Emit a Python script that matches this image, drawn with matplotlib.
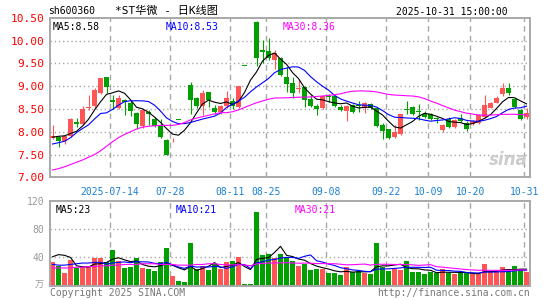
import numpy as np
import pandas as pd
import matplotlib
matplotlib.use("Agg")
import matplotlib.pyplot as plt

# daily OHLC for *ST华微, 80 sessions ending 2025-10-31
opens = [7.87, 7.89, 7.79, 7.90, 8.21, 8.17, 8.52, 8.56, 8.86, 9.20,
         8.70, 8.52, 8.70, 8.62, 8.41, 8.12, 8.44, 8.28, 8.12, 7.82,
         7.86, 8.26, 8.67, 9.02, 8.73, 8.56, 8.87, 8.52, 8.43, 8.56,
         8.68, 8.55, 9.45, 9.92, 10.40, 9.79, 9.77, 9.57, 9.61, 9.20,
         9.06, 8.94, 8.98, 8.72, 8.57, 8.52, 8.78, 8.78, 8.55, 8.46,
         8.58, 8.58, 8.51, 8.61, 8.52, 8.14, 8.06, 7.88, 7.94, 8.50,
         8.54, 8.46, 8.38, 8.38, 8.31, 8.04, 8.27, 8.11, 8.31, 8.19,
         8.16, 8.20, 8.32, 8.53, 8.64, 8.82, 8.96, 8.72, 8.48, 8.33]
closes = [7.91, 7.80, 7.90, 8.27, 8.17, 8.49, 8.54, 8.91, 9.17, 8.99,
          8.66, 8.75, 8.65, 8.46, 8.17, 8.48, 8.38, 8.12, 7.88, 7.49,
          7.87, 8.26, 8.67, 8.70, 8.56, 8.85, 8.69, 8.44, 8.56, 8.73,
          8.57, 9.00, 9.45, 9.92, 9.62, 9.76, 9.62, 9.72, 9.25, 9.05,
          8.85, 8.96, 8.70, 8.57, 8.49, 8.78, 8.76, 8.56, 8.48, 8.57,
          8.44, 8.56, 8.62, 8.52, 8.12, 8.02, 7.87, 8.00, 8.39, 8.48,
          8.38, 8.44, 8.33, 8.28, 8.27, 8.14, 8.11, 8.25, 8.23, 8.06,
          8.24, 8.36, 8.58, 8.63, 8.74, 8.97, 8.84, 8.55, 8.28, 8.42]
highs = [8.14, 7.90, 7.92, 8.31, 8.30, 8.56, 8.80, 8.97, 9.18, 9.20,
         8.80, 8.80, 8.72, 8.68, 8.43, 8.50, 8.48, 8.33, 8.27, 7.83,
         7.87, 8.26, 8.67, 9.10, 8.76, 8.91, 8.88, 8.58, 8.58, 8.89,
         8.75, 9.00, 9.45, 9.92, 10.42, 10.01, 10.05, 9.80, 9.63, 9.42,
         9.20, 9.15, 9.00, 8.80, 8.60, 8.80, 8.82, 8.80, 8.58, 8.58,
         8.60, 8.68, 8.66, 8.63, 8.54, 8.20, 8.07, 8.14, 8.40, 8.67,
         8.56, 8.60, 8.46, 8.42, 8.33, 8.18, 8.33, 8.28, 8.40, 8.24,
         8.26, 8.38, 8.80, 8.66, 8.78, 9.06, 9.08, 8.74, 8.50, 8.52]
lows = [7.85, 7.66, 7.74, 7.88, 8.10, 8.15, 8.47, 8.53, 8.82, 8.86,
        8.50, 8.50, 8.36, 8.34, 8.05, 8.08, 8.15, 8.10, 7.86, 7.49,
        7.78, 8.26, 8.67, 8.38, 8.52, 8.36, 8.54, 8.38, 8.40, 8.52,
        8.50, 8.52, 9.45, 9.92, 9.45, 9.50, 9.58, 9.38, 9.22, 8.87,
        8.75, 8.86, 8.55, 8.55, 8.37, 8.50, 8.65, 8.54, 8.45, 8.24,
        8.42, 8.44, 8.42, 8.50, 8.10, 7.84, 7.85, 7.86, 7.92, 8.40,
        8.36, 8.26, 8.31, 8.25, 8.20, 8.00, 8.08, 8.08, 8.21, 8.02,
        8.14, 8.18, 8.30, 8.51, 8.62, 8.78, 8.80, 8.52, 8.25, 8.28]
# volume in 万手
volumes = [33.0, 28.0, 17.5, 37.0, 25.0, 26.0, 26.0, 39.0, 39.0, 34.0,
           50.0, 35.5, 24.5, 26.0, 39.0, 24.5, 23.5, 20.0, 34.0, 53.0,
           13.5, 6.0, 4.5, 60.0, 23.5, 27.5, 21.5, 31.0, 23.5, 33.0,
           35.5, 41.0, 2.0, 2.0, 105.0, 44.0, 45.5, 39.0, 45.5, 41.0,
           35.5, 27.5, 31.0, 21.5, 23.0, 24.0, 18.0, 18.0, 14.5, 26.0,
           19.0, 20.0, 18.0, 16.0, 60.0, 26.0, 20.0, 24.0, 21.5, 35.5,
           19.0, 19.0, 16.0, 19.0, 18.0, 23.0, 18.0, 16.0, 18.0, 18.0,
           16.0, 16.0, 30.0, 19.0, 19.0, 26.0, 20.0, 28.5, 23.0, 19.0]

# moving-average values before the full window exists
ma5_head = [7.88, 7.90, 7.91, 7.96]
ma10_head = [7.73, 7.76, 7.79, 7.87, 7.98, 8.07, 8.15, 8.28, 8.40]
ma30_head = [7.16, 7.19, 7.23, 7.28, 7.33, 7.38, 7.44, 7.50, 7.58, 7.68,
             7.78, 7.87, 7.94, 8.00, 8.06, 8.10, 8.12, 8.13, 8.14, 8.14,
             8.14, 8.16, 8.20, 8.26, 8.30, 8.33, 8.36, 8.39, 8.42]
vma5_head = [41, 44, 43, 40]
vma10_head = [30, 29, 29, 30, 31, 32, 32, 33, 33]
vma30_head = [25, 25, 25, 25, 26, 26, 27, 27, 28, 28,
              29, 29, 30, 30, 30, 31, 31, 31, 30, 30,
              30, 29, 29, 29, 30, 30, 31, 31, 30]

tick_idx = [10, 20, 30, 36, 46, 56, 63, 70, 79]
tick_labels = ['2025-07-14', '07-28', '08-11', '08-25', '09-08',
               '09-22', '10-09', '10-20', '10-31']
price_ticks = [7.00, 7.50, 8.00, 8.50, 9.00, 9.50, 10.00, 10.50]
vol_ticks = [40, 80, 120]

RED = '#ff5555'
GREEN = '#00a000'
GRID = '#a8a8a8'
MONO = 'DejaVu Sans Mono'


def with_head(series, n, head):
    ma = series.rolling(n).mean()
    ma.iloc[:len(head)] = head
    return ma


df = pd.DataFrame({'open': opens, 'close': closes, 'high': highs,
                   'low': lows, 'vol': volumes})
x = np.arange(len(df))
up = df['close'] > df['open']
colors = np.where(up, RED, GREEN)

ma5 = with_head(df['close'], 5, ma5_head)
ma10 = with_head(df['close'], 10, ma10_head)
ma30 = with_head(df['close'], 30, ma30_head)
vma5 = with_head(df['vol'], 5, vma5_head)
vma10 = with_head(df['vol'], 10, vma10_head)
vma30 = with_head(df['vol'], 30, vma30_head)

W, H = 545, 300
fig = plt.figure(figsize=(W / 100, H / 100), dpi=100)
ax = fig.add_axes([50 / W, 1 - 177.3 / H, 480 / W, 159.5 / H])
axv = fig.add_axes([50 / W, 1 - 285.5 / H, 480 / W, 84.2 / H])

grid_x = [i - 0.4 for i in tick_idx]

for a in (ax, axv):
    a.set_xlim(-0.42, 79.58)
    for s in a.spines.values():
        s.set_color(GRID)
        s.set_linewidth(1.4)
    a.tick_params(length=0, pad=4)
    a.set_xticks([])
    for gx in grid_x:
        a.axvline(gx, color=GRID, lw=1, ls=(0, (4, 3)), zorder=0)

# ---- price panel ----
ax.set_ylim(7.0, 10.5)
ax.set_yticks(price_ticks)
ax.set_yticklabels([f'{p:.2f}' for p in price_ticks], color='red',
                   family=MONO, fontsize=8)
for p in price_ticks[1:-1]:
    ax.axhline(p, color=GRID, lw=1, ls=(0, (1, 2)), zorder=0)

ax.vlines(x, df['low'], df['high'], colors=colors, lw=0.8, zorder=2)
body = (df['close'] - df['open']).abs()
ax.bar(x, body.where(body > 0, 0.012), bottom=np.minimum(df['open'], df['close']),
       width=0.8, color=colors, zorder=3)

ax.plot(x, ma5, color='black', lw=0.8, zorder=4)
ax.plot(x, ma10, color='#0000ff', lw=0.8, zorder=4)
ax.plot(x, ma30, color='#ff00ff', lw=0.8, zorder=4)

ax.text(0.006, 0.975, 'MA5:8.58', transform=ax.transAxes, color='black',
        family=MONO, fontsize=7, va='top')
ax.text(0.24, 0.975, 'MA10:8.53', transform=ax.transAxes, color='#0000ff',
        family=MONO, fontsize=7, va='top')
ax.text(0.485, 0.975, 'MA30:8.36', transform=ax.transAxes, color='#ff00ff',
        family=MONO, fontsize=7, va='top')
ax.text(0.995, 0.05, 'sina', transform=ax.transAxes, color='#cccccc',
        fontsize=12, fontweight='bold', style='italic', ha='right', va='bottom')

# date labels between the panels
for gx, lab in zip(grid_x, tick_labels):
    ax.text(gx, -0.06, lab, transform=ax.get_xaxis_transform(), color='#1a7fd4',
            family=MONO, fontsize=7, ha='center', va='top')

# ---- volume panel ----
axv.set_ylim(0, 120)
axv.set_yticks(vol_ticks)
axv.set_yticklabels([str(v) for v in vol_ticks], color='#999999',
                    family=MONO, fontsize=7)
for v in vol_ticks[:-1]:
    axv.axhline(v, color=GRID, lw=1, ls=(0, (1, 2)), zorder=0)
axv.bar(x, df['vol'], width=0.83, color=colors, zorder=2)
axv.plot(x, vma5, color='black', lw=0.8, zorder=3)
axv.plot(x, vma10, color='#0000ff', lw=0.8, zorder=3)
axv.plot(x, vma30, color='#ff00ff', lw=0.8, zorder=3)
axv.text(0.012, 0.96, 'MA5:23', transform=axv.transAxes, color='black',
         family=MONO, fontsize=7, va='top')
axv.text(0.262, 0.96, 'MA10:21', transform=axv.transAxes, color='#0000ff',
         family=MONO, fontsize=7, va='top')
axv.text(0.51, 0.96, 'MA30:21', transform=axv.transAxes, color='#ff00ff',
         family=MONO, fontsize=7, va='top')

# ---- header / footer ----
fig.text(48 / W, 1 - 11 / H, 'sh600360', family=MONO, fontsize=7, va='center')
fig.text(115 / W, 1 - 11 / H, '*ST华微 - 日K线图',
         family=[MONO, 'Noto Sans CJK SC'], fontsize=8, va='center')
fig.text(508 / W, 1 - 12 / H, '2025-10-31 15:00:00', family=MONO, fontsize=7,
         ha='right', va='center')
fig.text(44 / W, 1 - 285 / H, '万', family=['Noto Sans CJK SC'], fontsize=6.5,
         color='#999999', ha='right', va='center')
fig.text(50 / W, 1 - 293 / H, 'Copyright 2025 SINA.COM', family=MONO,
         fontsize=7, color='#777777', va='center')
fig.text(530 / W, 1 - 293 / H, 'http://finance.sina.com.cn', family=MONO,
         fontsize=7, color='#777777', ha='right', va='center')

fig.savefig('out.png', dpi=100)
